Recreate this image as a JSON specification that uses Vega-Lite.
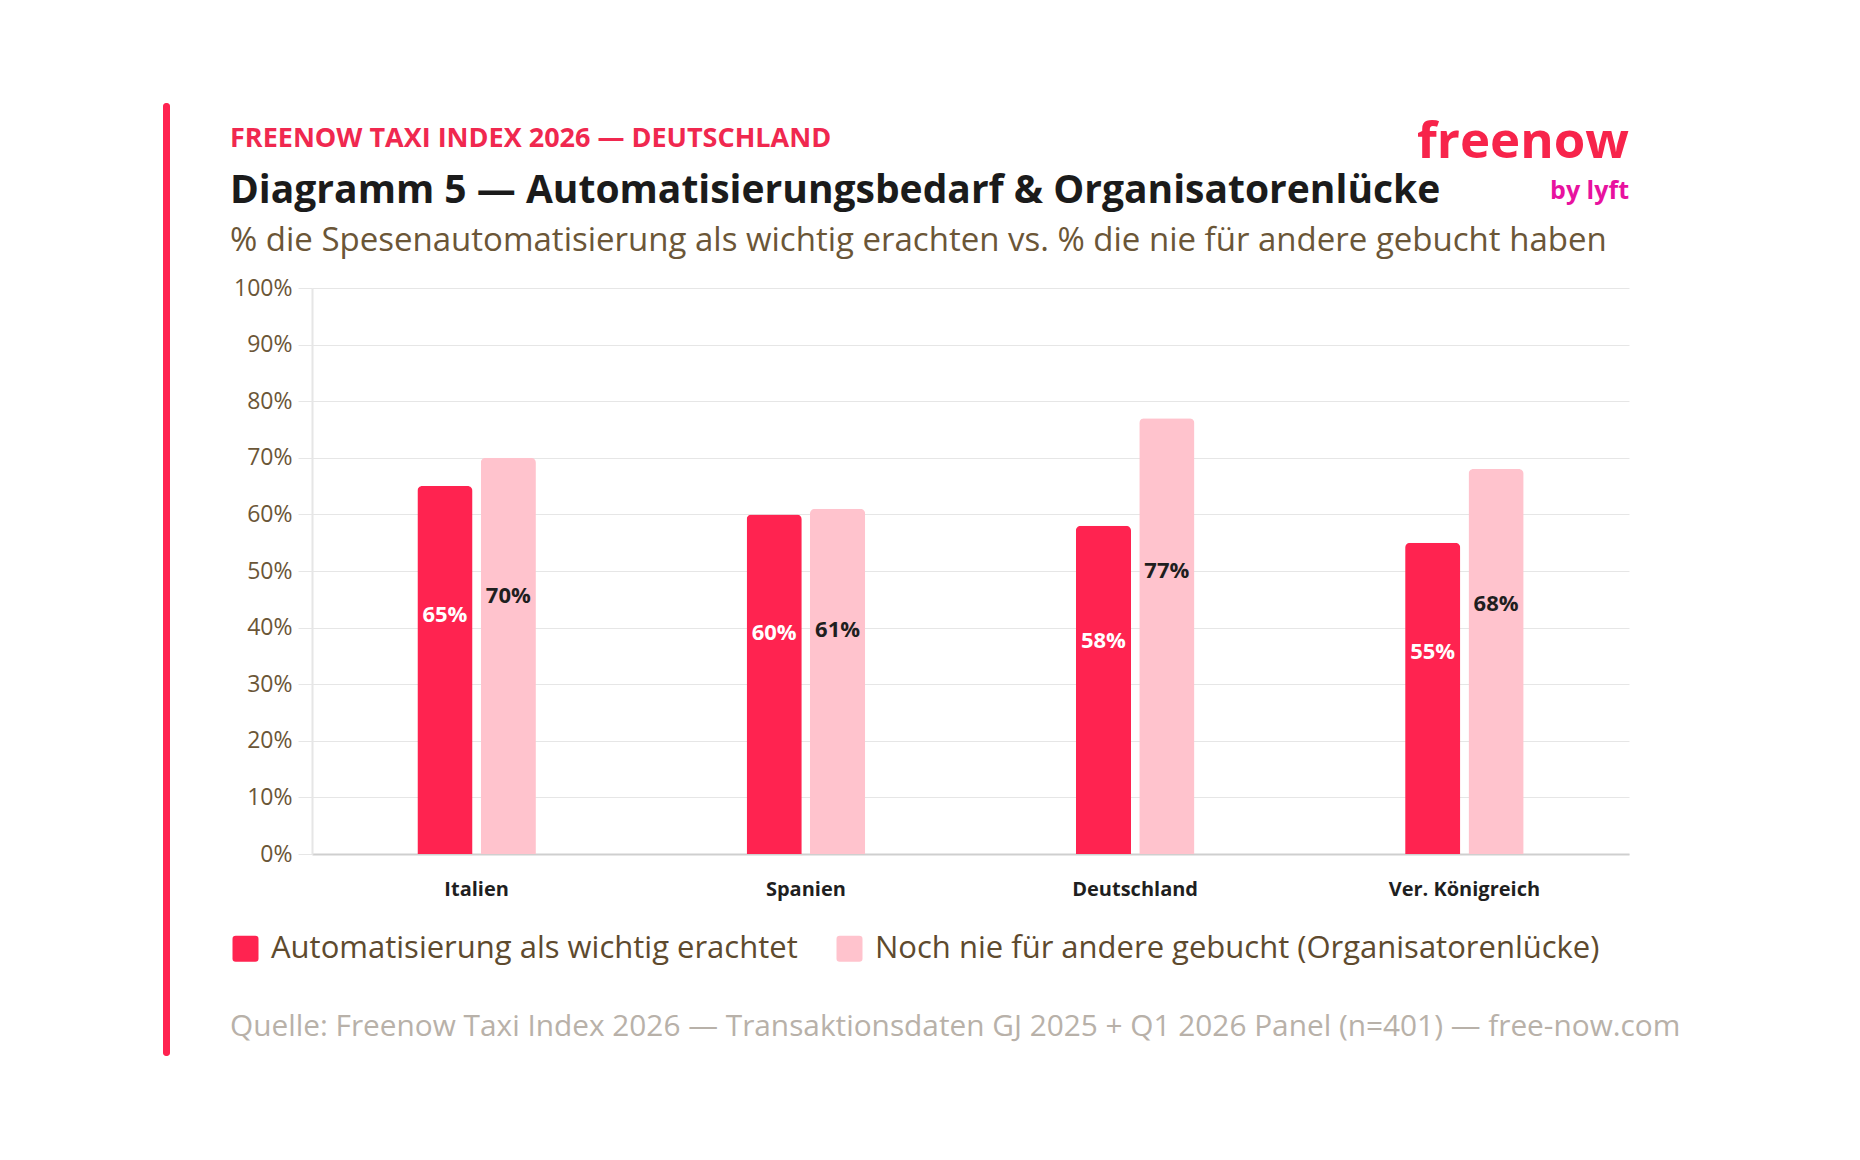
{
  "$schema": "https://vega.github.io/schema/vega-lite/v6.json",
  "background": "white",
  "padding": {"left": 163, "top": 103, "right": 10, "bottom": 10},
  "config": {
    "font": "Open Sans",
    "view": {"stroke": null},
    "axis": {"labelFont": "Open Sans", "titleFont": "Open Sans"},
    "legend": {"labelFont": "Open Sans"},
    "title": {"font": "Open Sans", "subtitleFont": "Open Sans"}
  },
  "spacing": 60,
  "resolve": {"scale": {"color": "independent"}, "legend": {"color": "independent"}},
  "hconcat": [
    {
      "width": 7,
      "height": 953,
      "view": {"fill": "#FF2350", "stroke": null, "cornerRadius": 3},
      "data": {"values": []},
      "mark": "point"
    },
    {
      "spacing": 8,
      "resolve": {"scale": {"color": "independent"}, "legend": {"color": "independent"}},
      "title": {
        "text": "Quelle: Freenow Taxi Index 2026 — Transaktionsdaten GJ 2025 + Q1 2026 Panel (n=401) — free-now.com",
        "orient": "bottom",
        "anchor": "start",
        "frame": "bounds",
        "fontSize": 29.8,
        "fontWeight": "normal",
        "color": "#b8b1a9",
        "offset": 48
      },
      "vconcat": [
        {
          "width": 1317,
          "height": 6,
          "data": {"values": []},
          "mark": "point"
        },
        {
          "spacing": 0,
          "bounds": "flush",
          "hconcat": [
            {
              "width": 1100,
              "height": 1,
              "data": {"values": []},
              "mark": "point",
              "title": {
                "text": "FREENOW TAXI INDEX 2026 — DEUTSCHLAND",
                "subtitle": "Diagramm 5 — Automatisierungsbedarf & Organisatorenlücke",
                "anchor": "start",
                "frame": "group",
                "dx": -82,
                "fontSize": 27,
                "fontWeight": "bold",
                "color": "#F0284F",
                "subtitleFontSize": 39,
                "subtitleFontWeight": "bold",
                "subtitleColor": "#1b1b1b",
                "subtitlePadding": 19,
                "offset": 4
              }
            },
            {
              "width": 217,
              "height": 1,
              "data": {"values": []},
              "mark": "point",
              "title": {
                "text": "freenow",
                "subtitle": "by lyft",
                "anchor": "end",
                "frame": "group",
                "fontSize": 51,
                "fontWeight": "bold",
                "color": "#F7244B",
                "subtitleFontSize": 25,
                "subtitleFontWeight": "bold",
                "subtitleColor": "#E8129F",
                "subtitlePadding": 10,
                "offset": 11
              }
            }
          ]
        },
        {
          "width": 1317,
          "height": 566,
          "title": {
            "text": "% die Spesenautomatisierung als wichtig erachten vs. % die nie für andere gebucht haben",
            "anchor": "start",
            "frame": "bounds",
            "fontSize": 33,
            "fontWeight": "normal",
            "color": "#6b5637",
            "offset": 19
          },
          "data": {
            "values": [
              {"land": "Italien", "series": "Automatisierung als wichtig erachtet", "value": 0.65},
              {"land": "Italien", "series": "Noch nie für andere gebucht (Organisatorenlücke)", "value": 0.70},
              {"land": "Spanien", "series": "Automatisierung als wichtig erachtet", "value": 0.60},
              {"land": "Spanien", "series": "Noch nie für andere gebucht (Organisatorenlücke)", "value": 0.61},
              {"land": "Deutschland", "series": "Automatisierung als wichtig erachtet", "value": 0.58},
              {"land": "Deutschland", "series": "Noch nie für andere gebucht (Organisatorenlücke)", "value": 0.77},
              {"land": "Ver. Königreich", "series": "Automatisierung als wichtig erachtet", "value": 0.55},
              {"land": "Ver. Königreich", "series": "Noch nie für andere gebucht (Organisatorenlücke)", "value": 0.68}
            ]
          },
          "encoding": {
            "x": {
              "field": "land",
              "type": "nominal",
              "sort": ["Italien", "Spanien", "Deutschland", "Ver. Königreich"],
              "scale": {"paddingInner": 0.64, "paddingOuter": 0.32},
              "axis": {
                "title": null,
                "labelAngle": 0,
                "labelFontSize": 20,
                "labelFontWeight": "bold",
                "labelColor": "#1f1f1f",
                "labelPadding": 25,
                "ticks": false,
                "domainColor": "#cfcfcf",
                "domainWidth": 2
              }
            },
            "xOffset": {
              "field": "series",
              "type": "nominal",
              "sort": ["Automatisierung als wichtig erachtet", "Noch nie für andere gebucht (Organisatorenlücke)"],
              "scale": {"paddingInner": 0.13, "paddingOuter": 0}
            }
          },
          "layer": [
            {
              "mark": {"type": "bar", "cornerRadiusTopLeft": 5, "cornerRadiusTopRight": 5},
              "encoding": {
                "y": {
                  "field": "value",
                  "type": "quantitative",
                  "scale": {"domain": [0, 1], "nice": false},
                  "axis": {
                    "title": null,
                    "format": ".0%",
                    "values": [0, 0.1, 0.2, 0.3, 0.4, 0.5, 0.6, 0.7, 0.8, 0.9, 1],
                    "labelFontSize": 23,
                    "labelColor": "#6b5637",
                    "labelPadding": 6,
                    "tickSize": 14,
                    "tickColor": "#e6e6e6",
                    "gridColor": "#e6e6e6",
                    "domainColor": "#e6e6e6",
                    "domainWidth": 2
                  }
                },
                "color": {
                  "field": "series",
                  "type": "nominal",
                  "scale": {
                    "domain": ["Automatisierung als wichtig erachtet", "Noch nie für andere gebucht (Organisatorenlücke)"],
                    "range": ["#FF2350", "#FFC3CD"]
                  },
                  "legend": {
                    "title": null,
                    "orient": "none",
                    "direction": "horizontal",
                    "legendX": -82,
                    "legendY": 645,
                    "padding": 0,
                    "symbolType": "M -0.75,-1 L 0.75,-1 Q 1,-1 1,-0.75 L 1,0.75 Q 1,1 0.75,1 L -0.75,1 Q -1,1 -1,0.75 L -1,-0.75 Q -1,-1 -0.75,-1 Z",
                    "symbolSize": 676,
                    "symbolStrokeWidth": 0,
                    "symbolOpacity": 1,
                    "labelFontSize": 31,
                    "labelColor": "#5e4a2e",
                    "labelOffset": 10,
                    "labelLimit": 900,
                    "columnPadding": 36
                  }
                }
              }
            },
            {
              "mark": {"type": "text", "fontSize": 22, "fontWeight": "bold", "baseline": "middle"},
              "encoding": {
                "y": {
                  "field": "value",
                  "type": "quantitative",
                  "scale": {"domain": [0, 1.5385], "nice": false},
                  "axis": null
                },
                "text": {"field": "value", "type": "quantitative", "format": ".0%"},
                "color": {
                  "condition": {"test": "datum.series === 'Automatisierung als wichtig erachtet'", "value": "#ffffff"},
                  "value": "#1f1f1f"
                }
              }
            }
          ],
          "resolve": {"scale": {"y": "independent"}}
        }
      ]
    }
  ]
}
